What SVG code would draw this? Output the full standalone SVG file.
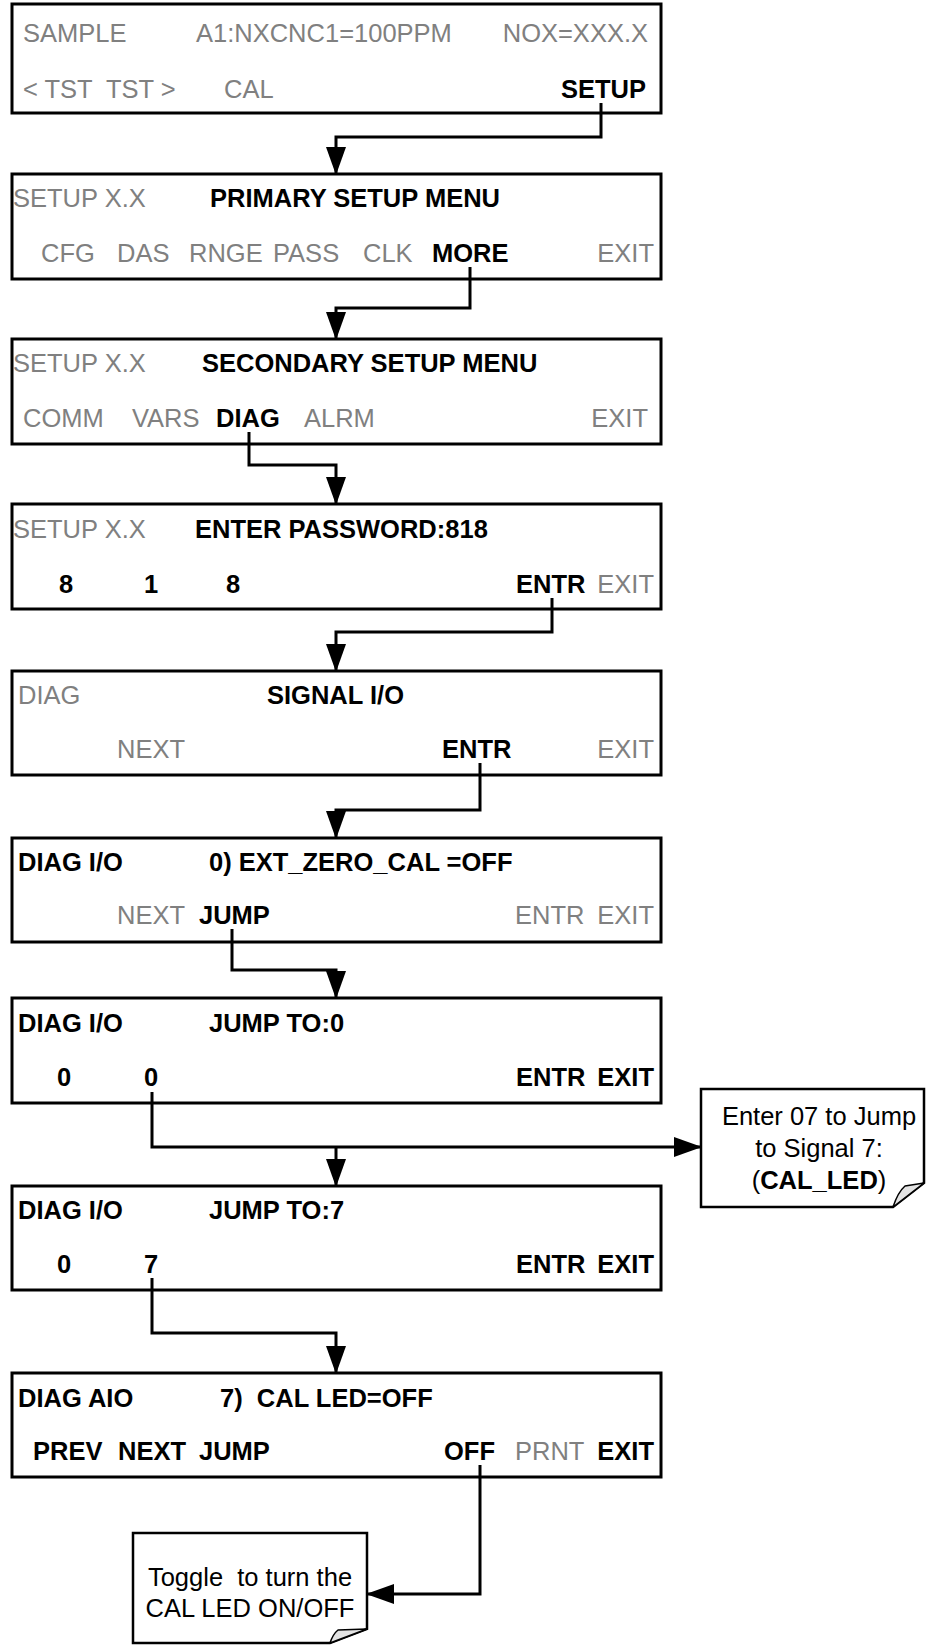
<svg xmlns="http://www.w3.org/2000/svg" width="927" height="1646" viewBox="0 0 927 1646">
<style>
text{font-family:"Liberation Sans",Arial,sans-serif;font-size:25.5px;white-space:pre}
.g{fill:#808080}
.b{fill:#000;font-weight:bold}
.n{fill:#000}
.e{text-anchor:end}
.m{text-anchor:middle}
.box{fill:#fff;stroke:#000;stroke-width:3}
.con{fill:none;stroke:#000;stroke-width:3;stroke-linejoin:miter}
.note{fill:#fff;stroke:#000;stroke-width:2.5;stroke-linejoin:miter}
.flap{fill:#e3e3e3;stroke:#000;stroke-width:1.5;stroke-linejoin:round}
</style>
<defs>
<marker id="ah" markerUnits="userSpaceOnUse" markerWidth="28" markerHeight="20" refX="27" refY="10" orient="auto">
<path d="M0,0 L28,10 L0,20 Z" fill="#000"/>
</marker>
</defs>
<rect width="927" height="1646" fill="#fff"/>

<g id="box1">
<rect class="box" x="12" y="4" width="649" height="109"/>
<text class="g" x="23" y="42">SAMPLE</text>
<text class="g" x="196" y="42">A1:NXCNC1=100PPM</text>
<text class="g e" x="648" y="42">NOX=XXX.X</text>
<text class="g" x="23" y="98">&lt; TST  TST &gt;</text>
<text class="g" x="224" y="98">CAL</text>
<text class="b e" x="646" y="98">SETUP</text>
</g>

<g id="box2">
<rect class="box" x="12" y="174" width="649" height="105"/>
<text class="g" x="13" y="207">SETUP X.X</text>
<text class="b" x="210" y="207">PRIMARY SETUP MENU</text>
<text class="g" x="41" y="262">CFG</text>
<text class="g" x="117" y="262">DAS</text>
<text class="g" x="189" y="262">RNGE</text>
<text class="g" x="273" y="262">PASS</text>
<text class="g" x="363" y="262">CLK</text>
<text class="b" x="432" y="262">MORE</text>
<text class="g e" x="654" y="262">EXIT</text>
</g>

<g id="box3">
<rect class="box" x="12" y="339" width="649" height="105"/>
<text class="g" x="13" y="372">SETUP X.X</text>
<text class="b" x="202" y="372">SECONDARY SETUP MENU</text>
<text class="g" x="23" y="427">COMM</text>
<text class="g" x="132" y="427">VARS</text>
<text class="b" x="216" y="427">DIAG</text>
<text class="g" x="304" y="427">ALRM</text>
<text class="g e" x="648" y="427">EXIT</text>
</g>

<g id="box4">
<rect class="box" x="12" y="504" width="649" height="105"/>
<text class="g" x="13" y="538">SETUP X.X</text>
<text class="b" x="195" y="538">ENTER PASSWORD:818</text>
<text class="b" x="59" y="593">8</text>
<text class="b" x="144" y="593">1</text>
<text class="b" x="226" y="593">8</text>
<text class="b" x="516" y="593">ENTR</text>
<text class="g e" x="654" y="593">EXIT</text>
</g>

<g id="box5">
<rect class="box" x="12" y="671" width="649" height="104"/>
<text class="g" x="18" y="704">DIAG</text>
<text class="b" x="267" y="704">SIGNAL I/O</text>
<text class="g" x="117" y="758">NEXT</text>
<text class="b" x="442" y="758">ENTR</text>
<text class="g e" x="654" y="758">EXIT</text>
</g>

<g id="box6">
<rect class="box" x="12" y="838" width="649" height="104"/>
<text class="b" x="18" y="871">DIAG I/O</text>
<text class="b" x="209" y="871">0) EXT_ZERO_CAL =OFF</text>
<text class="g" x="117" y="924">NEXT</text>
<text class="b" x="199" y="924">JUMP</text>
<text class="g" x="515" y="924">ENTR</text>
<text class="g e" x="654" y="924">EXIT</text>
</g>

<g id="box7">
<rect class="box" x="12" y="998" width="649" height="105"/>
<text class="b" x="18" y="1032">DIAG I/O</text>
<text class="b" x="209" y="1032">JUMP TO:0</text>
<text class="b" x="57" y="1086">0</text>
<text class="b" x="144" y="1086">0</text>
<text class="b" x="516" y="1086">ENTR</text>
<text class="b e" x="654" y="1086">EXIT</text>
</g>

<g id="box8">
<rect class="box" x="12" y="1186" width="649" height="104"/>
<text class="b" x="18" y="1219">DIAG I/O</text>
<text class="b" x="209" y="1219">JUMP TO:7</text>
<text class="b" x="57" y="1273">0</text>
<text class="b" x="144" y="1273">7</text>
<text class="b" x="516" y="1273">ENTR</text>
<text class="b e" x="654" y="1273">EXIT</text>
</g>

<g id="box9">
<rect class="box" x="12" y="1373" width="649" height="104"/>
<text class="b" x="18" y="1407">DIAG AIO</text>
<text class="b" x="220" y="1407">7)  CAL LED=OFF</text>
<text class="b" x="33" y="1460">PREV</text>
<text class="b" x="118" y="1460">NEXT</text>
<text class="b" x="199" y="1460">JUMP</text>
<text class="b" x="444" y="1460">OFF</text>
<text class="g" x="515" y="1460">PRNT</text>
<text class="b e" x="654" y="1460">EXIT</text>
</g>

<g id="note1">
<path class="note" d="M701,1089 H924 V1183 L893,1207 H701 Z"/>
<path class="flap" d="M893,1207 Q898,1192 905,1186 L924,1183 Z"/>
<text class="n m" x="819" y="1125">Enter 07 to Jump</text>
<text class="n m" x="819" y="1157">to Signal 7:</text>
<text class="n m" x="819" y="1189">(<tspan font-weight="bold">CAL_LED</tspan>)</text>
</g>

<g id="note2">
<path class="note" d="M133,1533 H367 V1629 L330,1643 H133 Z"/>
<path class="flap" d="M330,1643 Q333,1634 338,1630 L367,1629 Z"/>
<text class="n m" x="250" y="1586">Toggle  to turn the</text>
<text class="n m" x="250" y="1617">CAL LED ON/OFF</text>
</g>

<g id="connectors">
<path class="con" d="M601,103 V137 H336 V174" marker-end="url(#ah)"/>
<path class="con" d="M470,267 V308 H336 V339" marker-end="url(#ah)"/>
<path class="con" d="M249,432 V465 H336 V504" marker-end="url(#ah)"/>
<path class="con" d="M552,598 V632 H336 V671" marker-end="url(#ah)"/>
<path class="con" d="M480,763 V810 H336 V838" marker-end="url(#ah)"/>
<path class="con" d="M232,929 V970 H336 V998" marker-end="url(#ah)"/>
<path class="con" d="M152,1092 V1147 H701" marker-end="url(#ah)"/>
<path class="con" d="M336,1147 V1186" marker-end="url(#ah)"/>
<path class="con" d="M152,1278 V1333 H336 V1373" marker-end="url(#ah)"/>
<path class="con" d="M480,1465 V1594 H367" marker-end="url(#ah)"/>
</g>
</svg>
